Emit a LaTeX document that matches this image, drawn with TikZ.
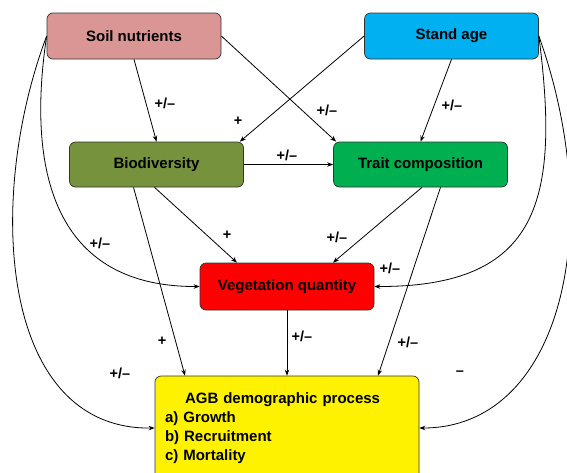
\documentclass[tikz,border=0pt]{standalone}
\usepackage{fontspec}
\setmainfont{Liberation Sans}
\usetikzlibrary{arrows.meta}

\definecolor{soilpink}{RGB}{217,150,148}
\definecolor{standblue}{RGB}{0,176,240}
\definecolor{bioolive}{RGB}{118,146,60}
\definecolor{traitgreen}{RGB}{0,176,80}

\begin{document}
\begin{tikzpicture}[x=1pt, y=-1pt,
  box/.style={draw=black!80, rounded corners=6pt, line width=0.7pt, minimum width=174pt,
    minimum height=46pt, inner sep=0pt, font=\fontsize{15}{19}\selectfont\bfseries},
  effect/.style={font=\fontsize{14.5}{16}\selectfont\bfseries, inner sep=1pt},
  link/.style={-{Stealth[length=6pt,width=4.5pt]}, line width=0.8pt}]
            \clip (0,0) rectangle (567,472);

            % Nodes
            \node[box, fill=soilpink] (soil) at (134,36) {Soil nutrients};
            \node[box, fill=standblue] (stand) at (451.5,36) {Stand age};
            \node[box, fill=bioolive, minimum height=45pt] (bio) at (156.5,164.5) {Biodiversity};
            \node[box, fill=traitgreen, minimum height=45pt] (trait) at (420.5,164.5) {Trait composition};
            \node[box, fill=red, minimum height=47pt] (veg) at (287,286.5) {Vegetation quantity};
            \node[box, fill=yellow, minimum width=264pt, minimum height=104pt, text width=244pt,
              align=left, inner xsep=10pt] (agb) at (287,428)
              {\hspace*{20pt}AGB demographic process\\a) Growth\\b) Recruitment\\c) Mortality};

            % Edges
            \draw[link] (soil.south) -- (bio.north);
            \draw[link] (soil.east) -- ([xshift=3pt]trait.north west);
            \draw[link] (stand.west) -- ([xshift=-4pt]bio.north east);
            \draw[link] (stand.south) -- (trait.north);
            \draw[link] (bio.east) -- (trait.west);
            \draw[link] ([xshift=-2pt]bio.south) -- ([xshift=-50pt]veg.north);
            \draw[link] ([xshift=-23pt]bio.south) -- ([xshift=-102pt]agb.north);
            \draw[link] ([xshift=1.5pt]trait.south) -- ([xshift=46pt]veg.north);
            \draw[link] ([xshift=20pt]trait.south) -- ([xshift=91pt]agb.north);
            \draw[link] (veg.south) -- (agb.north);
            \draw[link] (soil.west) .. controls (25,180) and (60,287) .. (veg.west);
            \draw[link] (soil.west) .. controls (-15,200) and (0,430) .. (agb.west);
            \draw[link] (stand.east) .. controls (560,200) and (540,287) .. (veg.east);
            \draw[link] (stand.east) .. controls (608,230) and (560,428) .. (agb.east);

            % Signs
            \node[effect] (e1) at (165,103) {+/--};
            \node[effect] (e2) at (327,110) {+/--};
            \node[effect] (e3) at (238,121) {+};
            \node[effect] (e4) at (452,105) {+/--};
            \node[effect] (e5) at (287,155) {+/--};
            \node[effect] (e6) at (227,235) {+};
            \node[effect] (e7) at (162,341) {+};
            \node[effect] (e8) at (337,237) {+/--};
            \node[effect] (e9) at (408,342) {+/--};
            \node[effect] (e10) at (302,336) {+/--};
            \node[effect] (e11) at (100,243) {+/--};
            \node[effect] (e12) at (120,373) {+/--};
            \node[effect] (e13) at (390,268) {+/--};
            \node[effect] (e14) at (460,373) {--};
          \end{tikzpicture}
\end{document}
